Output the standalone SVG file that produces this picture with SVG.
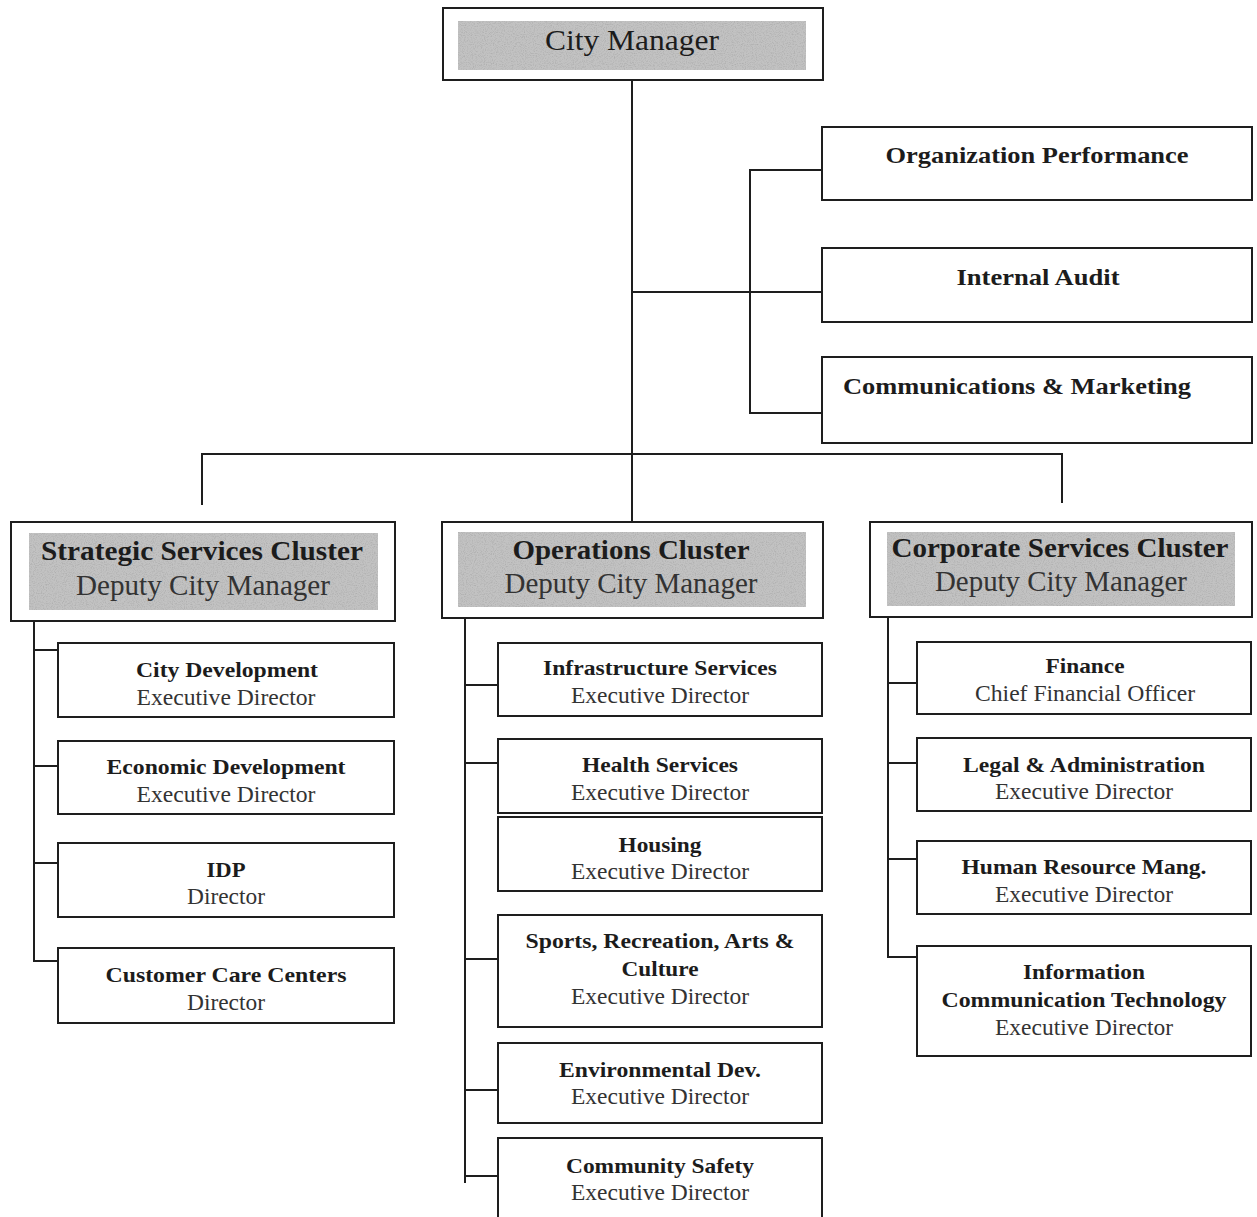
<svg xmlns="http://www.w3.org/2000/svg" width="1257" height="1217" viewBox="0 0 1257 1217">
  <defs>
    <filter id="grain" x="0" y="0" width="1" height="1">
      <feTurbulence type="fractalNoise" baseFrequency="0.9" numOctaves="2" seed="7" result="n"/>
      <feColorMatrix in="n" type="matrix" values="0 0 0 0 0.42  0 0 0 0 0.42  0 0 0 0 0.42  0 0 0 2.2 -0.95" result="speck"/>
      <feComposite in="speck" in2="SourceGraphic" operator="in" result="s"/>
      <feMerge><feMergeNode in="SourceGraphic"/><feMergeNode in="s"/></feMerge>
    </filter>
    <style>
      .box { fill: #ffffff; stroke: #1e1e1e; stroke-width: 2; }
      .shade { fill: #c2c2c2; filter: url(#grain); }
      .wire { fill: none; stroke: #1e1e1e; stroke-width: 2; }
      text { font-family: "Liberation Serif", "Times New Roman", serif; text-anchor: middle; }
      .b { font-weight: bold; fill: #1c1c1c; }
      .r { fill: #333333; }
      .top { font-size: 30px; fill: #1c1c1c; }
      .hb { font-size: 28px; }
      .hr { font-size: 29px; }
      .sb { font-size: 24px; }
      .cb { font-size: 21px; }
      .cr { font-size: 23px; }
    </style>
  </defs>

  <rect width="1257" height="1217" fill="#ffffff"/>

  <!-- reporting lines -->
  <g id="connectors">
    <path class="wire" d="M632 80 V522"/>
    <path class="wire" d="M632 292 H822"/>
    <path class="wire" d="M822 170 H750 V413 H822"/>
    <path class="wire" d="M202 505 V454 H1062 V503"/>
    <path class="wire" d="M34 621 V961 H58 M34 650 H58 M34 766 H58 M34 863 H58"/>
    <path class="wire" d="M465 618 V1183 M465 685 H498 M465 763 H498 M465 959 H498 M465 1090 H498 M465 1176 H498"/>
    <path class="wire" d="M888 617 V957 H917 M888 683 H917 M888 763 H917 M888 859 H917"/>
  </g>

  <!-- top -->
  <g id="city-manager">
    <rect class="box" x="443" y="8" width="380" height="72"/>
    <rect class="shade" x="458" y="21" width="348" height="49"/>
    <text class="top" x="632" y="50" textLength="174" lengthAdjust="spacingAndGlyphs">City Manager</text>
  </g>

  <!-- staff units -->
  <g id="organization-performance">
    <rect class="box" x="822" y="127" width="430" height="73"/>
    <text class="b sb" x="1037" y="163" textLength="303" lengthAdjust="spacingAndGlyphs">Organization Performance</text>
  </g>
  <g id="internal-audit">
    <rect class="box" x="822" y="248" width="430" height="74"/>
    <text class="b sb" x="1038" y="285" textLength="163" lengthAdjust="spacingAndGlyphs">Internal Audit</text>
  </g>
  <g id="communications-marketing">
    <rect class="box" x="822" y="357" width="430" height="86"/>
    <text class="b sb" x="1017" y="394" textLength="348" lengthAdjust="spacingAndGlyphs">Communications &amp; Marketing</text>
  </g>

  <!-- clusters -->
  <g id="strategic-cluster">
    <rect class="box" x="11" y="522" width="384" height="99"/>
    <rect class="shade" x="29" y="533" width="349" height="77"/>
    <text class="b hb" x="202" y="560" textLength="322" lengthAdjust="spacingAndGlyphs">Strategic Services Cluster</text>
    <text class="r hr" x="203" y="595" textLength="254" lengthAdjust="spacingAndGlyphs">Deputy City Manager</text>
  </g>
  <g id="operations-cluster">
    <rect class="box" x="442" y="522" width="381" height="96"/>
    <rect class="shade" x="458" y="532" width="348" height="75"/>
    <text class="b hb" x="631" y="559" textLength="237" lengthAdjust="spacingAndGlyphs">Operations Cluster</text>
    <text class="r hr" x="631" y="593" textLength="253" lengthAdjust="spacingAndGlyphs">Deputy City Manager</text>
  </g>
  <g id="corporate-cluster">
    <rect class="box" x="870" y="522" width="382" height="95"/>
    <rect class="shade" x="887" y="532" width="348" height="74"/>
    <text class="b hb" x="1060" y="557" textLength="337" lengthAdjust="spacingAndGlyphs">Corporate Services Cluster</text>
    <text class="r hr" x="1061" y="591" textLength="252" lengthAdjust="spacingAndGlyphs">Deputy City Manager</text>
  </g>

  <!-- strategic services units -->
  <g id="city-development">
    <rect class="box" x="58" y="643" width="336" height="74"/>
    <text class="b cb" x="227" y="677" textLength="182" lengthAdjust="spacingAndGlyphs">City Development</text>
    <text class="r cr" x="226" y="705" textLength="179" lengthAdjust="spacingAndGlyphs">Executive Director</text>
  </g>
  <g id="economic-development">
    <rect class="box" x="58" y="741" width="336" height="73"/>
    <text class="b cb" x="226" y="774" textLength="239" lengthAdjust="spacingAndGlyphs">Economic Development</text>
    <text class="r cr" x="226" y="802" textLength="179" lengthAdjust="spacingAndGlyphs">Executive Director</text>
  </g>
  <g id="idp">
    <rect class="box" x="58" y="843" width="336" height="74"/>
    <text class="b cb" x="226" y="877" textLength="39" lengthAdjust="spacingAndGlyphs">IDP</text>
    <text class="r cr" x="226" y="904" textLength="78" lengthAdjust="spacingAndGlyphs">Director</text>
  </g>
  <g id="customer-care-centers">
    <rect class="box" x="58" y="948" width="336" height="75"/>
    <text class="b cb" x="226" y="982" textLength="241" lengthAdjust="spacingAndGlyphs">Customer Care Centers</text>
    <text class="r cr" x="226" y="1010" textLength="78" lengthAdjust="spacingAndGlyphs">Director</text>
  </g>

  <!-- operations units -->
  <g id="infrastructure-services">
    <rect class="box" x="498" y="643" width="324" height="73"/>
    <text class="b cb" x="660" y="675" textLength="234" lengthAdjust="spacingAndGlyphs">Infrastructure Services</text>
    <text class="r cr" x="660" y="703" textLength="178" lengthAdjust="spacingAndGlyphs">Executive Director</text>
  </g>
  <g id="health-services">
    <rect class="box" x="498" y="739" width="324" height="74"/>
    <text class="b cb" x="660" y="772" textLength="156" lengthAdjust="spacingAndGlyphs">Health Services</text>
    <text class="r cr" x="660" y="800" textLength="178" lengthAdjust="spacingAndGlyphs">Executive Director</text>
  </g>
  <g id="housing">
    <rect class="box" x="498" y="817" width="324" height="74"/>
    <text class="b cb" x="660" y="852" textLength="83" lengthAdjust="spacingAndGlyphs">Housing</text>
    <text class="r cr" x="660" y="879" textLength="178" lengthAdjust="spacingAndGlyphs">Executive Director</text>
  </g>
  <g id="sports-recreation">
    <rect class="box" x="498" y="915" width="324" height="112"/>
    <text class="b cb" x="660" y="948" textLength="269" lengthAdjust="spacingAndGlyphs">Sports, Recreation, Arts &amp;</text>
    <text class="b cb" x="660" y="976" textLength="77" lengthAdjust="spacingAndGlyphs">Culture</text>
    <text class="r cr" x="660" y="1004" textLength="178" lengthAdjust="spacingAndGlyphs">Executive Director</text>
  </g>
  <g id="environmental-dev">
    <rect class="box" x="498" y="1043" width="324" height="80"/>
    <text class="b cb" x="660" y="1077" textLength="202" lengthAdjust="spacingAndGlyphs">Environmental Dev.</text>
    <text class="r cr" x="660" y="1104" textLength="178" lengthAdjust="spacingAndGlyphs">Executive Director</text>
  </g>
  <g id="community-safety">
    <rect class="box" x="498" y="1138" width="324" height="90"/>
    <text class="b cb" x="660" y="1173" textLength="188" lengthAdjust="spacingAndGlyphs">Community Safety</text>
    <text class="r cr" x="660" y="1200" textLength="178" lengthAdjust="spacingAndGlyphs">Executive Director</text>
  </g>

  <!-- corporate services units -->
  <g id="finance">
    <rect class="box" x="917" y="642" width="334" height="72"/>
    <text class="b cb" x="1085" y="673" textLength="79" lengthAdjust="spacingAndGlyphs">Finance</text>
    <text class="r cr" x="1085" y="701" textLength="220" lengthAdjust="spacingAndGlyphs">Chief Financial Officer</text>
  </g>
  <g id="legal-administration">
    <rect class="box" x="917" y="738" width="334" height="73"/>
    <text class="b cb" x="1084" y="772" textLength="242" lengthAdjust="spacingAndGlyphs">Legal &amp; Administration</text>
    <text class="r cr" x="1084" y="799" textLength="178" lengthAdjust="spacingAndGlyphs">Executive Director</text>
  </g>
  <g id="human-resource">
    <rect class="box" x="917" y="841" width="334" height="73"/>
    <text class="b cb" x="1084" y="874" textLength="245" lengthAdjust="spacingAndGlyphs">Human Resource Mang.</text>
    <text class="r cr" x="1084" y="902" textLength="178" lengthAdjust="spacingAndGlyphs">Executive Director</text>
  </g>
  <g id="ict">
    <rect class="box" x="917" y="946" width="334" height="110"/>
    <text class="b cb" x="1084" y="979" textLength="122" lengthAdjust="spacingAndGlyphs">Information</text>
    <text class="b cb" x="1084" y="1007" textLength="285" lengthAdjust="spacingAndGlyphs">Communication Technology</text>
    <text class="r cr" x="1084" y="1035" textLength="178" lengthAdjust="spacingAndGlyphs">Executive Director</text>
  </g>
</svg>
